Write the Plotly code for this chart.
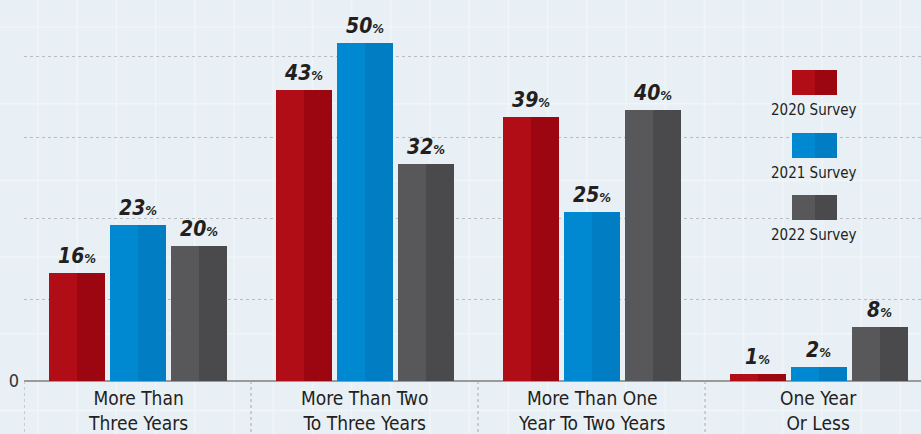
import plotly.graph_objects as go

categories = ["More Than<br>Three Years", "More Than Two<br>To Three Years",
              "More Than One<br>Year To Two Years", "One Year<br>Or Less"]
series_names = ["2020 Survey", "2021 Survey", "2022 Survey"]
values_2020 = [16, 43, 39, 1]
values_2021 = [23, 50, 25, 2]
values_2022 = [20, 32, 40, 8]
series_values = [values_2020, values_2021, values_2022]
light_colors = ["#b10d17", "#0089d1", "#58585b"]
dark_colors = ["#9c0610", "#007dc3", "#4a4a4d"]

FONT = "DejaVu Sans Condensed, Roboto, sans-serif"
x_idx = list(range(len(categories)))
bar_w = 0.2467
step = 0.2687

fig = go.Figure()
for s, vals in enumerate(series_values):
    off = (s - 1) * step - bar_w / 2
    fig.add_trace(go.Bar(x=x_idx, y=vals, width=bar_w, offset=off,
                         marker=dict(color=light_colors[s], line=dict(width=0)),
                         name=series_names[s], showlegend=False, hoverinfo="y"))
    fig.add_trace(go.Bar(x=x_idx, y=vals, width=bar_w / 2, offset=off + bar_w / 2,
                         marker=dict(color=dark_colors[s], line=dict(width=0)),
                         showlegend=False, hoverinfo="skip"))
    for i, v in enumerate(vals):
        fig.add_annotation(x=i + (s - 1) * step, y=v, xref="x", yref="y",
                           text=f"<b><i>{v}<span style='font-size:13px'>%</span></i></b>",
                           showarrow=False, yanchor="bottom", yshift=3,
                           font=dict(family=FONT, size=21, color="#231f20"))

shapes = []
# background texture
for k in range(24):
    xp = 38 + 39.2 * k
    shapes.append(dict(type="line", xref="paper", yref="paper", layer="below",
                       x0=(xp - 24) / 897, x1=(xp - 24) / 897, y0=-53 / 381, y1=1,
                       line=dict(color="#f0f5f8", width=1.5)))
for k in range(6):
    yp = 27 + 76.7 * k
    shapes.append(dict(type="line", xref="paper", yref="paper", layer="below",
                       x0=-24 / 897, x1=1, y0=(381 - yp) / 381, y1=(381 - yp) / 381,
                       line=dict(color="#f0f5f8", width=1.5)))
# category separators below axis
for k in range(len(categories)):
    shapes.append(dict(type="line", xref="x", yref="paper", x0=k - 0.5, x1=k - 0.5,
                       y0=0, y1=-53 / 381, line=dict(color="#a8a8a8", width=1, dash="dot")))

# legend
leg_y = [(70, 95), (133, 158), (195, 220)]
for s in range(3):
    y0, y1 = leg_y[s]
    shapes.append(dict(type="rect", xref="paper", yref="paper",
                       x0=(792 - 24) / 897, x1=(815 - 24) / 897,
                       y0=(381 - y1) / 381, y1=(381 - y0) / 381,
                       fillcolor=light_colors[s], line=dict(width=0)))
    shapes.append(dict(type="rect", xref="paper", yref="paper",
                       x0=(815 - 24) / 897, x1=(837 - 24) / 897,
                       y0=(381 - y1) / 381, y1=(381 - y0) / 381,
                       fillcolor=dark_colors[s], line=dict(width=0)))
    fig.add_annotation(x=(814 - 24) / 897, y=(381 - y1 - 4) / 381, xref="paper", yref="paper",
                       text=series_names[s], showarrow=False, yanchor="top", xanchor="center",
                       font=dict(family=FONT, size=15, color="#231f20"))

# category labels
for i, c in enumerate(categories):
    fig.add_annotation(x=i, y=0, xref="x", yref="y", text=c, showarrow=False,
                       yanchor="top", yshift=-4, font=dict(family=FONT, size=19, color="#231f20"))

fig.update_layout(
    width=921, height=434,
    margin=dict(l=24, r=0, t=0, b=53),
    paper_bgcolor="#e8f0f6", plot_bgcolor="rgba(0,0,0,0)",
    barmode="overlay", bargap=0, shapes=shapes,
    xaxis=dict(range=[-0.5, 3.4515], showticklabels=False, showgrid=False, zeroline=False,
               showline=False, fixedrange=True),
    yaxis=dict(range=[0, 56.3], tickvals=[0, 12, 24, 36, 48], ticktext=["0", "", "", "", ""],
               showgrid=True, gridcolor="#b8bcc0", griddash="dot", gridwidth=1,
               zeroline=True, zerolinecolor="#9a9a9a", zerolinewidth=2,
               tickfont=dict(family=FONT, size=18, color="#333333"), ticks="",
               ticklabelstandoff=4, fixedrange=True),
    font=dict(family=FONT),
)

fig.write_html("out.html")
